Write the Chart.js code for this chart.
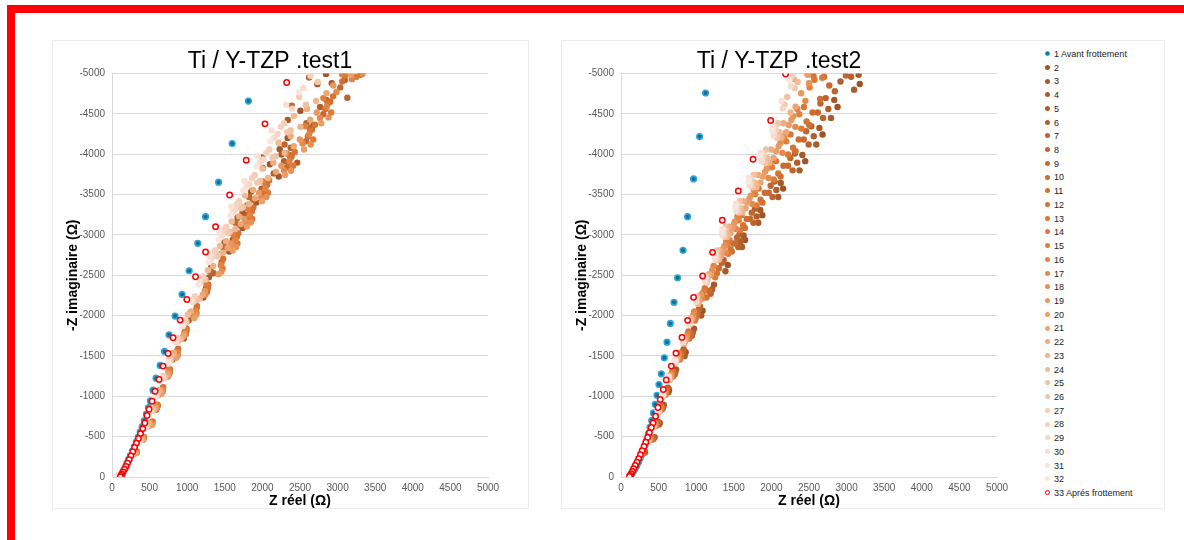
<!DOCTYPE html>
<html>
<head>
<meta charset="utf-8">
<script src="https://cdn.jsdelivr.net/npm/chart.js@4"></script>
<style>
  body { margin: 0; background: #fff; width: 1184px; height: 540px; position: relative; overflow: hidden;
         font-family: "Liberation Sans", Arial, sans-serif; }
  #frameTop { position: absolute; left: 7px; top: 5px; width: 1177px; height: 8px; background: #ff0000; }
  #frameLeft { position: absolute; left: 7px; top: 5px; width: 8px; height: 535px; background: #ff0000; }
  .panel { position: absolute; border: 1px solid #ebebeb; box-sizing: border-box; background: #fff; }
  .box { position: absolute; }
  #legend { position: absolute; left: 1045px; top: 48px; font-size: 9px; color: #222; }
  .item { height: 13.73px; line-height: 13.73px; white-space: nowrap; }
  .dot { display: inline-block; width: 5px; height: 5px; border-radius: 50%; margin-right: 4px;
         vertical-align: middle; position: relative; top: -1px; box-sizing: border-box; }
</style>
</head>
<body>
<div id="frameTop"></div>
<div id="frameLeft"></div>
<div class="panel" style="left:52px;top:40px;width:477px;height:469px"></div>
<div class="panel" style="left:561px;top:40px;width:604px;height:469px"></div>
<div class="box" style="left:52px;top:40px;width:477px;height:480px"><canvas id="chart-1"></canvas></div>
<div class="box" style="left:561px;top:40px;width:477px;height:480px"><canvas id="chart-2"></canvas></div>
<div id="legend"></div>

<script>
// Noms des séries et couleurs (1 = avant frottement, 33 = après frottement)
const seriesNames = ['1 Avant frottement', '2', '3', '4', '5', '6', '7', '8', '9', '10', '11', '12', '13', '14', '15', '16',
    '17', '18', '19', '20', '21', '22', '23', '24', '25', '26', '27', '28', '29', '30', '31', '32', '33 Aprés frottement'];
const midColors = ['#9e5427', '#a5592a', '#aa5b2b', '#b05e2c', '#b5612d', '#bb642e', '#c0672f', '#c66a30', '#cb6d31',
    '#d07032', '#d57333', '#da7634', '#de7a37', '#e17e3c', '#e38443', '#e58a4b', '#e79154', '#e8985e', '#ea9f69',
    '#eca674', '#edad7f', '#efb48a', '#f0bb95', '#f2c1a0', '#f3c7aa', '#f4cdb4', '#f5d2bd', '#f6d7c6', '#f7dccf',
    '#f8e1d7', '#f9e6df'];
const xTicks = [0, 500, 1000, 1500, 2000, 2500, 3000, 3500, 4000, 4500, 5000];
const yTicks = [0, -500, -1000, -1500, -2000, -2500, -3000, -3500, -4000, -4500, -5000];

// ---- test1 ----
const t1_blue = [[1814,-4658],[1598,-4132],[1417,-3653],[1244,-3226],[1141,-2896],[1026,-2556],[932,-2263],[839,-1994],
    [759,-1762],[698,-1556],[640,-1382],[586,-1224],[546,-1076],[511,-943],[485,-860],[458,-780],[430,-700],[402,-625],
    [376,-558],[350,-495],[324,-435],[298,-378],[272,-322],[246,-268],[222,-218],[198,-170],[176,-126],[156,-86],
    [138,-52],[124,-24],[114,-6]];
const t1_red = [[2323,-4888],[2034,-4376],[1785,-3926],[1564,-3495],[1377,-3102],[1244,-2788],[1111,-2481],[995,-2201],
    [906,-1944],[812,-1725],[746,-1531],[679,-1374],[626,-1208],[573,-1063],[533,-939],[493,-840],[466,-762],[436,-670],
    [409,-600],[378,-538],[352,-478],[326,-420],[300,-365],[276,-312],[252,-262],[228,-215],[206,-172],[186,-132],
    [166,-96],[148,-64],[132,-38],[120,-18],[112,-4]];
const t1_s02 = [[124,-31],[298,-306],[492,-663],[630,-1071],[812,-1530],[1045,-2040],[1320,-2601],[1670,-3213],[2100,-3876],[2505,-4539],[2846,-4995],[1496,-2907],[1849,-3539],[2336,-4202]];
const t1_s03 = [[180,-118],[402,-461],[585,-833],[738,-1245],[955,-1715],[1215,-2225],[1560,-2793],[1920,-3401],[2230,-4062],[2922,-4880],[1736,-3087],[2217,-3724],[2679,-4361]];
const t1_s04 = [[121,-29],[288,-291],[478,-631],[615,-1019],[805,-1455],[1018,-1940],[1290,-2474],[1737,-3276],[2007,-3830],[2337,-4425],[2731,-4868],[1455,-2765],[1796,-3366],[2255,-3996]];
const t1_s05 = [[183,-124],[415,-484],[590,-876],[757,-1308],[968,-1803],[1250,-2338],[1605,-2936],[1990,-3574],[2464,-3896],[3095,-4921],[1784,-3245],[2288,-3914],[2766,-4584]];
const t1_s06 = [[125,-30],[300,-297],[495,-644],[636,-1040],[820,-1485],[1052,-1980],[1350,-2525],[1695,-3119],[2150,-3762],[2585,-4384],[3020,-5049],[1516,-2822],[1876,-3435],[2376,-4079]];
const t1_s07 = [[187,-126],[424,-494],[606,-893],[770,-1334],[990,-1838],[1280,-2384],[1645,-2993],[2045,-3644],[2630,-4326],[3130,-4700],[1832,-3308],[2359,-3990],[2853,-4673]];
const t1_s08 = [[122,-30],[292,-302],[486,-652],[624,-1048],[808,-1502],[1030,-2002],[1305,-2548],[1640,-3152],[2000,-3960],[2390,-4600],[2620,-4950],[1475,-2850],[1823,-3470],[2295,-4120]];
const t1_s09 = [[185,-121],[418,-475],[598,-859],[762,-1283],[980,-1768],[1262,-2293],[1620,-2879],[2012,-3505],[2580,-4161],[3035,-4828],[1808,-3182],[2324,-3838],[2810,-4495]];
const t1_s10 = [[134,-31],[326,-314],[531,-679],[676,-1097],[870,-1568],[1124,-2090],[1458,-2665],[1860,-3292],[2388,-3971],[2902,-4650],[3320,-4990],[1660,-2978],[2063,-3626],[2660,-4305]];
const t1_s11 = [[186,-123],[420,-482],[603,-871],[765,-1302],[984,-1794],[1270,-2327],[1632,-2921],[2028,-3557],[2605,-4223],[3062,-4900],[1822,-3229],[2345,-3895],[2836,-4561]];
const t1_s12 = [[135,-32],[330,-318],[540,-689],[680,-1113],[880,-1590],[1130,-2120],[1480,-2703],[1880,-3339],[2430,-4028],[2940,-4717],[3300,-4985],[1680,-3021],[2090,-3678],[2700,-4367]];
const t1_s13 = [[187,-125],[423,-489],[606,-884],[770,-1321],[991,-1820],[1279,-2361],[1647,-2964],[2047,-3609],[2635,-4285],[3097,-4971],[1842,-3276],[2373,-3952],[2870,-4628]];
const t1_s14 = [[134,-30],[328,-305],[537,-660],[677,-1066],[876,-1523],[1124,-2030],[1470,-2588],[1866,-3197],[2409,-3857],[2914,-4517],[3250,-4960],[1668,-2893],[2074,-3522],[2676,-4182]];
const t1_s15 = [[184,-127],[416,-496],[596,-897],[758,-1340],[976,-1846],[1255,-2395],[1612,-3007],[2005,-3661],[2570,-4347],[3060,-4990],[1808,-3323],[2324,-4009],[2810,-4695]];
const t1_s16 = [[132,-31],[322,-309],[529,-670],[669,-1082],[866,-1545],[1110,-2060],[1446,-2627],[1832,-3245],[2359,-3914],[2853,-4584],[3190,-4930],[1639,-2936],[2037,-3574],[2619,-4244]];
const t1_s17 = [[182,-114],[411,-462],[588,-862],[752,-1262],[966,-1762],[1244,-2262],[1596,-2862],[1985,-3462],[2535,-4132],[2985,-4770],[1784,-3150],[2288,-3800],[2766,-4450]];
const t1_s18 = [[133,-27],[325,-297],[532,-647],[672,-1053],[870,-1497],[1116,-2006],[1456,-2544],[1846,-3156],[2380,-3794],[2879,-4456],[3334,-5000],[1651,-2850],[2053,-3470],[2643,-4120]];
const t1_s19 = [[181,-122],[409,-477],[586,-863],[748,-1289],[961,-1776],[1234,-2304],[1578,-2893],[1956,-3522],[2498,-4182],[2943,-4852],[1760,-3197],[2253,-3857],[2723,-4517]];
const t1_s20 = [[130,-30],[317,-296],[520,-640],[659,-1034],[854,-1478],[1094,-1970],[1419,-2512],[1794,-3103],[2302,-3743],[2783,-4383],[3180,-4985],[1606,-2807],[1994,-3418],[2554,-4058]];
const t1_s21 = [[178,-119],[400,-468],[575,-846],[735,-1264],[944,-1741],[1207,-2259],[1537,-2836],[1903,-3453],[2417,-4099],[2852,-4756],[1712,-3134],[2182,-3781],[2636,-4428]];
const t1_s22 = [[124,-31],[299,-308],[494,-666],[633,-1076],[822,-1538],[1049,-2050],[1344,-2614],[1688,-3229],[2146,-3895],[2592,-4561],[3020,-5228],[1516,-2921],[1876,-3557],[2376,-4223]];
const t1_s23 = [[173,-117],[388,-458],[558,-829],[715,-1238],[918,-1706],[1168,-2213],[1475,-2779],[1823,-3383],[2295,-4017],[2715,-4661],[1640,-3071],[2075,-3705],[2505,-4339]];
const t1_s24 = [[120,-30],[285,-302],[474,-653],[611,-1055],[793,-1508],[1010,-2010],[1276,-2563],[1592,-3166],[2004,-3819],[2418,-4472],[2830,-5126],[1434,-2864],[1769,-3487],[2214,-4141]];
const t1_s25 = [[167,-116],[375,-454],[540,-820],[696,-1226],[891,-1689],[1128,-2191],[1414,-2750],[1742,-3349],[2174,-3976],[2579,-4613],[1568,-3040],[1969,-3667],[2375,-4294]];
const t1_s26 = [[88,-15],[118,-29],[277,-288],[463,-624],[600,-1008],[779,-1440],[990,-1920],[1242,-2448],[1544,-3024],[1933,-3648],[2331,-4272],[2735,-4896],[1393,-2736],[1716,-3331],[2133,-3955]];
const t1_s27 = [[164,-118],[366,-463],[529,-837],[683,-1251],[874,-1724],[1101,-2236],[1373,-2807],[1689,-3418],[2093,-4058],[2488,-4708],[1520,-3103],[1898,-3743],[2288,-4383]];
const t1_s28 = [[115,-29],[270,-293],[452,-634],[588,-1024],[764,-1463],[970,-1950],[1208,-2486],[1496,-3071],[1862,-3705],[2244,-4339],[2640,-4973],[1352,-2779],[1662,-3383],[2052,-4017]];
const t1_s29 = [[160,-115],[358,-449],[517,-812],[670,-1213],[856,-1671],[1075,-2168],[1332,-2722],[1635,-3314],[2012,-3935],[2397,-4565],[1472,-3008],[1827,-3629],[2201,-4250]];
const t1_s30 = [[78,-25],[112,-28],[262,-284],[441,-614],[577,-992],[750,-1418],[950,-1890],[1174,-2410],[1448,-2977],[1791,-3591],[2157,-4205],[2545,-4820],[1311,-2693],[1609,-3279],[1971,-3893]];
const t1_s31 = [[157,-116],[350,-454],[507,-820],[658,-1226],[841,-1689],[1051,-2191],[1295,-2750],[1587,-3349],[1939,-3976],[2315,-4613],[1429,-3040],[1763,-3667],[2122,-4294]];
const t1_s32 = [[111,-28],[258,-281],[434,-608],[570,-982],[741,-1403],[938,-1870],[1154,-2384],[1419,-2945],[1748,-3553],[2105,-4161],[2488,-4769],[1286,-2665],[1576,-3244],[1922,-3852]];

// ---- test2 ----
const t2_blue = [[1125,-4757],[1045,-4218],[965,-3693],[886,-3226],[825,-2809],[753,-2469],[705,-2164],[656,-1903],
    [612,-1671],[576,-1477],[536,-1278],[505,-1146],[479,-1013],[455,-900],[431,-794],[408,-700],[386,-615],[364,-535],
    [342,-462],[320,-395],[298,-334],[276,-278],[254,-228],[232,-182],[210,-140],[188,-102],[166,-70],[146,-42],
    [128,-20],[116,-6]];
const t2_red = [[2189,-4993],[1990,-4417],[1756,-3938],[1560,-3545],[1347,-3181],[1218,-2784],[1085,-2490],[965,-2226],
    [886,-1941],[811,-1730],[731,-1535],[669,-1374],[602,-1203],[562,-1084],[522,-960],[492,-861],[460,-753],[426,-670],
    [403,-613],[378,-550],[354,-490],[330,-432],[306,-378],[282,-326],[258,-276],[234,-228],[212,-184],[190,-142],
    [170,-104],[152,-70],[136,-42],[122,-20],[112,-6]];
const t2_s02 = [[135,-31],[320,-309],[515,-670],[640,-1082],[860,-1545],[1085,-2060],[1420,-2627],[1880,-3245],[2450,-3914],[2880,-4584],[3175,-4870],[1650,-2936],[2156,-3574],[2680,-4244]];
const t2_s03 = [[188,-126],[447,-494],[569,-893],[733,-1334],[970,-1838],[1237,-2384],[1630,-2993],[2124,-3644],[2638,-4326],[3160,-4985],[1853,-3308],[2412,-3990],[2836,-4673]];
const t2_s04 = [[132,-30],[313,-300],[506,-650],[631,-1050],[846,-1500],[1067,-2000],[1389,-2550],[1826,-3150],[2374,-3800],[2792,-4450],[3100,-4800],[1609,-2850],[2092,-3470],[2597,-4120]];
const t2_s05 = [[185,-123],[437,-482],[561,-871],[723,-1302],[956,-1794],[1213,-2327],[1593,-2921],[2066,-3557],[2563,-4223],[2919,-4900],[1804,-3229],[2343,-3895],[2757,-4561]];
const t2_s06 = [[130,-32],[307,-317],[498,-686],[624,-1108],[834,-1583],[1052,-2110],[1365,-2690],[1782,-3323],[2313,-4009],[2722,-4695],[3060,-4960],[1576,-3007],[2041,-3661],[2530,-4347]];
const t2_s07 = [[182,-120],[429,-470],[554,-850],[714,-1270],[943,-1750],[1192,-2270],[1560,-2850],[2015,-3470],[2496,-4120],[2844,-4780],[1761,-3150],[2282,-3800],[2687,-4450]];
const t2_s08 = [[128,-31],[302,-312],[490,-676],[617,-1092],[823,-1560],[1037,-2080],[1340,-2652],[1739,-3276],[2252,-3952],[2652,-4628],[2990,-4975],[1543,-2964],[1990,-3609],[2463,-4285]];
const t2_s09 = [[180,-122],[421,-477],[548,-863],[705,-1289],[930,-1776],[1171,-2304],[1527,-2893],[1964,-3522],[2430,-4182],[2770,-4852],[1717,-3197],[2221,-3857],[2617,-4517]];
const t2_s10 = [[126,-30],[293,-305],[479,-660],[606,-1066],[806,-1523],[1015,-2030],[1303,-2588],[1674,-3197],[2160,-3857],[2547,-4517],[2700,-4960],[1494,-2893],[1913,-3522],[2363,-4182]];
const t2_s11 = [[175,-118],[407,-461],[536,-833],[691,-1245],[909,-1715],[1136,-2225],[1474,-2793],[1881,-3401],[2321,-4038],[2648,-4684],[1647,-3087],[2122,-3724],[2503,-4361]];
const t2_s12 = [[123,-30],[287,-297],[470,-644],[598,-1040],[793,-1485],[999,-1980],[1275,-2525],[1625,-3119],[2091,-3762],[2468,-4406],[2560,-4970],[1457,-2822],[1855,-3435],[2288,-4079]];
const t2_s13 = [[172,-124],[398,-484],[530,-876],[682,-1308],[896,-1803],[1115,-2338],[1441,-2936],[1830,-3574],[2254,-4244],[2573,-4923],[1603,-3245],[2061,-3914],[2433,-4584]];
const t2_s14 = [[121,-29],[282,-291],[463,-631],[591,-1019],[782,-1455],[984,-1940],[1251,-2474],[1581,-3056],[2030,-3686],[2398,-4317],[2676,-4947],[1425,-2765],[1804,-3366],[2221,-3996]];
const t2_s15 = [[170,-121],[391,-475],[524,-859],[674,-1283],[885,-1768],[1096,-2293],[1412,-2879],[1785,-3505],[2196,-4161],[2508,-4828],[1565,-3182],[2007,-3838],[2371,-4495]];
const t2_s16 = [[120,-31],[277,-308],[457,-666],[585,-1076],[773,-1538],[973,-2050],[1232,-2614],[1549,-3229],[1985,-3895],[2345,-4561],[2480,-4990],[1400,-2921],[1766,-3557],[2171,-4223]];
const t2_s17 = [[168,-117],[385,-458],[519,-829],[668,-1238],[876,-1706],[1080,-2213],[1388,-2779],[1746,-3383],[2146,-4017],[2452,-4661],[1532,-3071],[1962,-3705],[2319,-4339]];
const t2_s18 = [[118,-30],[273,-302],[451,-653],[580,-1055],[765,-1508],[962,-2010],[1214,-2563],[1516,-3166],[1939,-3819],[2292,-4472],[2500,-4880],[1375,-2864],[1727,-3487],[2121,-4141]];
const t2_s19 = [[166,-119],[379,-468],[514,-846],[661,-1264],[866,-1741],[1065,-2259],[1363,-2836],[1708,-3453],[2096,-4099],[2396,-4756],[1500,-3134],[1916,-3781],[2266,-4428]];
const t2_s20 = [[117,-29],[268,-294],[445,-637],[573,-1029],[755,-1470],[950,-1960],[1192,-2499],[1478,-3087],[1885,-3724],[2231,-4361],[2487,-4985],[1347,-2793],[1682,-3401],[2062,-4038]];
const t2_s21 = [[163,-115],[370,-451],[507,-816],[652,-1219],[853,-1680],[1043,-2179],[1330,-2736],[1657,-3331],[2029,-3955],[2321,-4589],[1456,-3024],[1855,-3648],[2196,-4272]];
const t2_s22 = [[115,-30],[263,-296],[437,-640],[566,-1034],[744,-1478],[935,-1970],[1167,-2512],[1435,-3103],[1824,-3743],[2161,-4383],[2300,-4930],[1314,-2807],[1631,-3418],[1995,-4058]];
const t2_s23 = [[160,-113],[363,-444],[501,-803],[645,-1200],[842,-1654],[1025,-2145],[1302,-2693],[1612,-3279],[1970,-3893],[2255,-4517],[1418,-2977],[1801,-3591],[2135,-4205]];
const t2_s24 = [[113,-29],[258,-288],[431,-624],[561,-1008],[735,-1440],[924,-1920],[1149,-2448],[1402,-3024],[1779,-3648],[2108,-4272],[2349,-4896],[1289,-2736],[1593,-3331],[1945,-3955]];
const t2_s25 = [[159,-118],[358,-463],[497,-837],[639,-1251],[834,-1724],[1012,-2236],[1281,-2807],[1580,-3418],[1929,-4058],[2209,-4708],[1391,-3103],[1763,-3743],[2091,-4383]];
const t2_s26 = [[112,-28],[256,-284],[428,-614],[557,-992],[729,-1418],[917,-1890],[1137,-2410],[1380,-2977],[1748,-3591],[2073,-4205],[2309,-4820],[1273,-2693],[1567,-3279],[1912,-3893]];
const t2_s27 = [[157,-116],[354,-454],[494,-820],[635,-1226],[828,-1689],[1002,-2191],[1267,-2750],[1558,-3349],[1899,-3976],[2176,-4613],[1372,-3040],[1737,-3667],[2060,-4294]];
const t2_s28 = [[111,-29],[254,-293],[425,-634],[555,-1024],[725,-1463],[911,-1950],[1127,-2486],[1364,-3071],[1725,-3705],[2047,-4339],[2280,-4973],[1261,-2779],[1548,-3383],[1887,-4017]];
const t2_s29 = [[156,-115],[351,-449],[491,-812],[632,-1213],[824,-1671],[996,-2168],[1256,-2722],[1542,-3314],[1878,-3935],[2152,-4565],[1359,-3008],[1718,-3629],[2038,-4250]];
const t2_s30 = [[111,-29],[252,-285],[423,-618],[553,-998],[722,-1425],[907,-1900],[1121,-2423],[1353,-2993],[1710,-3610],[2029,-4228],[2260,-4845],[1252,-2708],[1535,-3297],[1870,-3914]];
const t2_s31 = [[156,-117],[349,-458],[490,-829],[630,-1238],[821,-1706],[990,-2213],[1248,-2779],[1529,-3383],[1862,-4017],[2134,-4661],[1348,-3071],[1702,-3705],[2021,-4339]];
const t2_s32 = [[110,-29],[251,-290],[421,-627],[551,-1013],[720,-1448],[904,-1930],[1115,-2461],[1342,-3040],[1695,-3667],[2012,-4294],[2240,-4922],[1244,-2750],[1522,-3349],[1853,-3976]];

const test1Mid = [t1_s02, t1_s03, t1_s04, t1_s05, t1_s06, t1_s07, t1_s08, t1_s09, t1_s10, t1_s11, t1_s12, t1_s13, t1_s14,
    t1_s15, t1_s16, t1_s17, t1_s18, t1_s19, t1_s20, t1_s21, t1_s22, t1_s23, t1_s24, t1_s25, t1_s26, t1_s27, t1_s28,
    t1_s29, t1_s30, t1_s31, t1_s32];
const test2Mid = [t2_s02, t2_s03, t2_s04, t2_s05, t2_s06, t2_s07, t2_s08, t2_s09, t2_s10, t2_s11, t2_s12, t2_s13, t2_s14,
    t2_s15, t2_s16, t2_s17, t2_s18, t2_s19, t2_s20, t2_s21, t2_s22, t2_s23, t2_s24, t2_s25, t2_s26, t2_s27, t2_s28,
    t2_s29, t2_s30, t2_s31, t2_s32];

const FONT = '"Liberation Sans", Arial, sans-serif';
const toXY = pts => pts.map(p => ({x: p[0], y: p[1]}));

function buildDatasets(blue, mid, red) {
    const sets = [];
    sets.push({
        label: seriesNames[0], data: toXY(blue),
        backgroundColor: '#1d6d8f', borderColor: '#2aa6dc', borderWidth: 1.6, pointRadius: 2.8
    });
    mid.forEach((pts, i) => {
        sets.push({
            label: seriesNames[i + 1], data: toXY(pts),
            backgroundColor: midColors[i], borderColor: midColors[i], borderWidth: 0, pointRadius: 3.2
        });
    });
    sets.push({
        label: seriesNames[32], data: toXY(red),
        backgroundColor: '#ffffff', borderColor: '#ff0000', borderWidth: 1.5, pointRadius: 2.7
    });
    // Excel dessine la série 33 au-dessus : ordre inversé
    sets.forEach((ds, i) => { ds.order = sets.length - i; ds.pointHoverRadius = ds.pointRadius; });
    return sets;
}

function makeChart(id, titleText, blue, mid, red) {
    const ctx = document.getElementById(id).getContext('2d');
    return new Chart(ctx, {
        type: 'scatter',
        data: { datasets: buildDatasets(blue, mid, red) },
        options: {
            responsive: true,
            maintainAspectRatio: false,
            animation: false,
            layout: { padding: { top: 0, right: 41, bottom: 10, left: 0 } },
            plugins: {
                legend: { display: false },
                tooltip: { enabled: false },
                title: {
                    display: true, text: titleText, color: '#000',
                    font: { family: FONT, size: 23, weight: 'normal', lineHeight: 1 },
                    padding: { top: 10.5, bottom: 0 }
                }
            },
            scales: {
                x: {
                    type: 'linear', min: xTicks[0], max: xTicks[xTicks.length - 1],
                    afterBuildTicks: s => { s.ticks = xTicks.map(v => ({value: v})); },
                    afterFit: s => { s.height = 33; },
                    grid: { display: false, drawTicks: false },
                    border: { display: true, color: '#d9d9d9' },
                    ticks: { color: '#595959', font: { family: FONT, size: 10 }, padding: 5, maxRotation: 0,
                             autoSkip: false, callback: v => String(v) },
                    title: { display: true, text: 'Z réel (Ω)', color: '#000',
                             font: { family: FONT, size: 14, weight: 'bold' }, padding: { top: 0, bottom: 0 } }
                },
                y: {
                    type: 'linear', reverse: true, min: yTicks[yTicks.length - 1], max: yTicks[0],
                    afterBuildTicks: s => { s.ticks = yTicks.map(v => ({value: v})); },
                    afterFit: s => { s.width = 60; },
                    grid: { color: '#d9d9d9', lineWidth: 1, drawTicks: false },
                    border: { display: true, color: '#d9d9d9' },
                    ticks: { color: '#595959', font: { family: FONT, size: 10 }, padding: 7, autoSkip: false,
                             callback: v => String(v) },
                    title: { display: true, text: '-Z imaginaire (Ω)', color: '#000',
                             font: { family: FONT, size: 14, weight: 'bold' }, padding: { top: 13, bottom: 0 } }
                }
            }
        }
    });
}

makeChart('chart-1', 'Ti / Y-TZP .test1', t1_blue, test1Mid, t1_red);
const chart2 = makeChart('chart-2', 'Ti / Y-TZP .test2', t2_blue, test2Mid, t2_red);

// Légende commune (à droite du second graphe)
const legendBox = document.getElementById('legend');
chart2.data.datasets.forEach(ds => {
    const item = document.createElement('div');
    item.className = 'item';
    const dot = document.createElement('span');
    dot.className = 'dot';
    if (ds.label.startsWith('33')) {
        dot.style.border = '1.5px solid #ff0000';
        dot.style.background = '#fff';
    } else if (ds.label.startsWith('1 ')) {
        dot.style.background = '#1d6d8f';
        dot.style.border = '1.2px solid #2aa6dc';
    } else {
        dot.style.background = ds.backgroundColor;
    }
    item.appendChild(dot);
    item.appendChild(document.createTextNode(ds.label));
    legendBox.appendChild(item);
});
</script>
</body>
</html>
